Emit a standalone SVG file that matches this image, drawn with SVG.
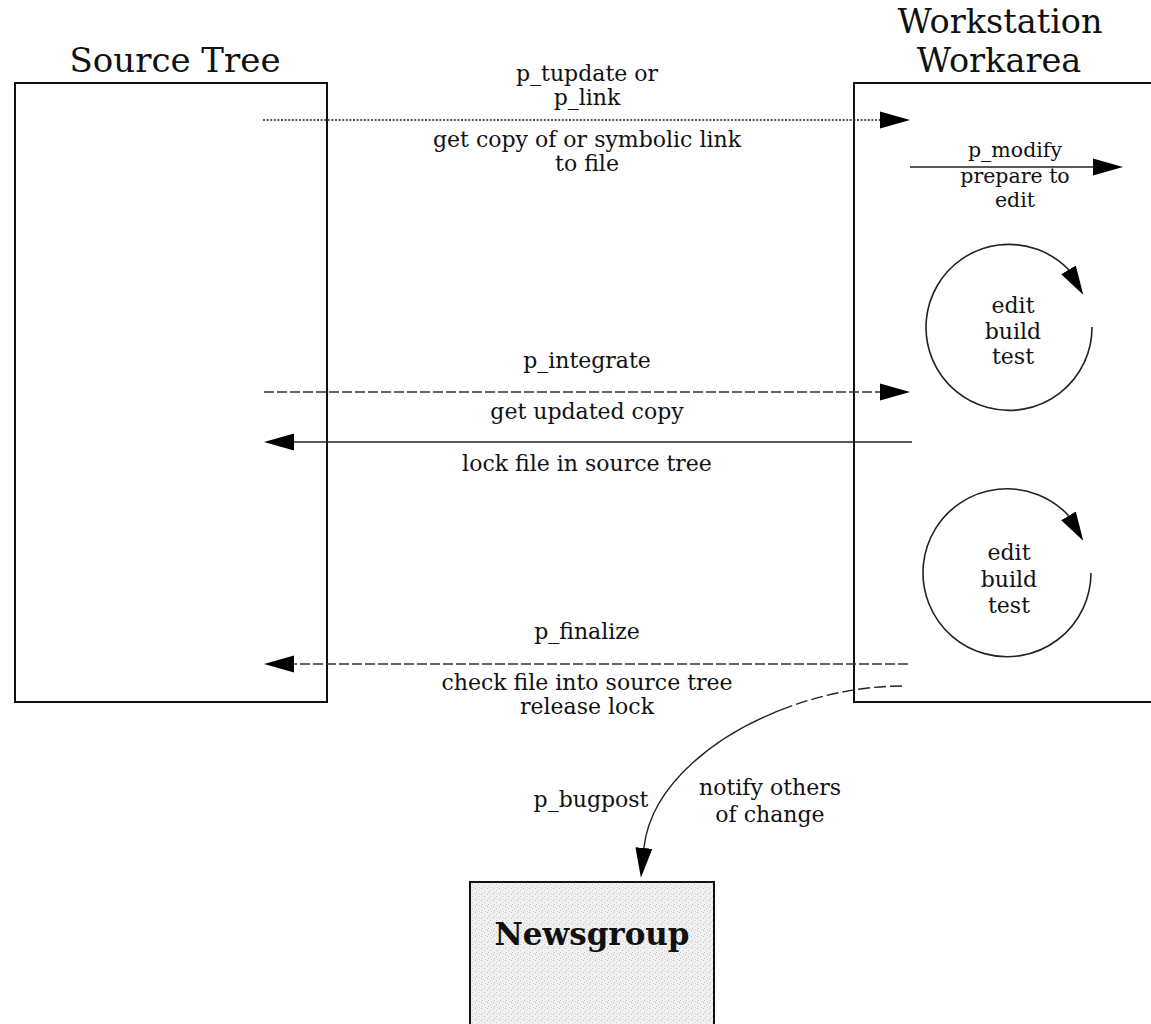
<svg xmlns="http://www.w3.org/2000/svg" width="1151" height="1024" viewBox="0 0 1151 1024">
  <style>
    .box { fill: #ffffff; stroke: #111; stroke-width: 2; }
    .title { font-family: "DejaVu Serif", "Liberation Serif", serif; fill: #111; text-anchor: middle; }
    .lbl { font-family: "DejaVu Serif", "Liberation Serif", serif; font-size: 22px; fill: #111; text-anchor: middle; }
    .small { font-size: 20.5px; }
    .link { fill: none; stroke: #222; stroke-width: 1.4; }
    .dotted { stroke-dasharray: 2 1.6; stroke-width: 1.6; }
    .dashed { stroke-dasharray: 10 3; stroke: #333; }
    .loop { fill: none; stroke: #222; stroke-width: 1.6; }
  </style>
  <defs>
    <marker id="head" markerUnits="userSpaceOnUse" markerWidth="31" markerHeight="18" refX="0" refY="8.5" orient="auto" viewBox="0 0 31 17">
      <path d="M0,0 L30,8.5 L0,17 Z" fill="#000"/>
    </marker>
    <marker id="loophead" markerUnits="userSpaceOnUse" markerWidth="30" markerHeight="18" refX="0" refY="8.5" orient="auto" viewBox="0 0 30 17">
      <path d="M0,0 L29,8.5 L0,17 Z" fill="#000"/>
    </marker>
    <pattern id="stipple" width="6" height="6" patternUnits="userSpaceOnUse">
      <rect width="6" height="6" fill="#f1f1f1"/>
      <rect x="1" y="0" width="1" height="1" fill="#bdbdbd"/>
      <rect x="4" y="2" width="1" height="1" fill="#c9c9c9"/>
      <rect x="2" y="4" width="1" height="1" fill="#c4c4c4"/>
      <rect x="5" y="5" width="1" height="1" fill="#d2d2d2"/>
    </pattern>
  </defs>

  <!-- Source tree -->
  <g id="node-source-tree">
    <rect class="box" x="15" y="83" width="312" height="619"/>
    <text class="title" x="175" y="72" font-size="34">Source Tree</text>
  </g>

  <!-- Workstation workarea (runs off the right edge) -->
  <g id="node-workstation">
    <rect class="box" x="854" y="83" width="320" height="619"/>
    <text class="title" x="1000" y="33" font-size="33.5">Workstation</text>
    <text class="title" x="999" y="72" font-size="33.5">Workarea</text>
  </g>

  <!-- Newsgroup -->
  <g id="node-newsgroup">
    <rect x="470" y="882" width="244" height="160" fill="url(#stipple)" stroke="#111" stroke-width="2"/>
    <text class="title" x="592" y="945" font-size="31" font-weight="bold">Newsgroup</text>
  </g>

  <!-- edit / build / test cycles -->
  <g id="node-cycle-1">
    <path class="loop" d="M1092,327 A83,83 0 1 1 1068,269 l0.5,0.85" marker-end="url(#loophead)"/>
    <text class="lbl" x="1013" y="313">edit</text>
    <text class="lbl" x="1013" y="339">build</text>
    <text class="lbl" x="1013" y="364">test</text>
  </g>
  <g id="node-cycle-2">
    <path class="loop" d="M1091,573 A84,84 0 1 1 1068,515 l0.5,0.85" marker-end="url(#loophead)"/>
    <text class="lbl" x="1009" y="560">edit</text>
    <text class="lbl" x="1009" y="587">build</text>
    <text class="lbl" x="1009" y="613">test</text>
  </g>

  <!-- connectors -->
  <g id="connectors">
    <line class="link dotted" x1="263" y1="120" x2="880" y2="120" marker-end="url(#head)"/>
    <line class="link" x1="910" y1="167" x2="1093" y2="167" stroke="#444" marker-end="url(#head)"/>
    <line class="link dashed" x1="264" y1="392" x2="880" y2="392" marker-end="url(#head)"/>
    <line class="link" x1="912" y1="442" x2="294" y2="442" marker-end="url(#head)"/>
    <line class="link dashed" x1="908" y1="664" x2="294" y2="664" marker-end="url(#head)"/>
    <path class="link" d="M902,686 C790,686 655,755 644,847 l-0.1,1" stroke-dasharray="12 4 12 4 12 4 12 4 12 4 12 4 12 4 500 0" marker-end="url(#head)"/>

    <text class="lbl" x="587" y="81">p_tupdate or</text>
    <text class="lbl" x="587" y="105">p_link</text>
    <text class="lbl" x="587" y="147">get copy of or symbolic link</text>
    <text class="lbl" x="587" y="171">to file</text>

    <text class="lbl small" x="1015" y="157">p_modify</text>
    <text class="lbl small" x="1015" y="183">prepare to</text>
    <text class="lbl small" x="1015" y="207">edit</text>

    <text class="lbl" x="587" y="368">p_integrate</text>
    <text class="lbl" x="587" y="419">get updated copy</text>
    <text class="lbl" x="587" y="471">lock file in source tree</text>

    <text class="lbl" x="587" y="639">p_finalize</text>
    <text class="lbl" x="587" y="690">check file into source tree</text>
    <text class="lbl" x="587" y="714">release lock</text>

    <text class="lbl" x="591" y="807">p_bugpost</text>
    <text class="lbl" x="770" y="795">notify others</text>
    <text class="lbl" x="770" y="822">of change</text>
  </g>
</svg>
